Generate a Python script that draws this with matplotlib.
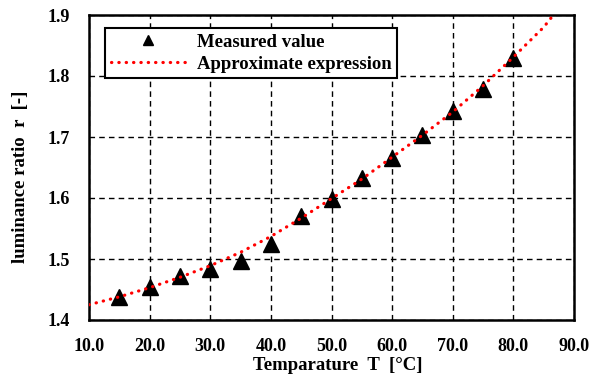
import matplotlib
matplotlib.use("Agg")
import matplotlib.pyplot as plt

# measured points
temp = [15, 20, 25, 30, 35, 40, 45, 50, 55, 60, 65, 70, 75, 80]
ratio = [1.438, 1.454, 1.472, 1.484, 1.497, 1.525, 1.570, 1.598,
         1.633, 1.666, 1.703, 1.743, 1.779, 1.830]

# approximate expression
fit_t = [10, 15, 20, 25, 30, 35, 40, 45, 50, 55, 60, 65, 70, 75, 80, 85, 87]
fit_r = [1.425, 1.438, 1.453, 1.470, 1.489, 1.511, 1.537, 1.567, 1.599,
         1.631, 1.667, 1.703, 1.741, 1.784, 1.831, 1.880, 1.905]

xticks = [10, 20, 30, 40, 50, 60, 70, 80, 90]
yticks = [1.4, 1.5, 1.6, 1.7, 1.8, 1.9]

plt.rcParams["font.family"] = ["Liberation Serif", "DejaVu Serif"]
plt.rcParams["font.weight"] = "bold"

fig = plt.figure(figsize=(5.97, 3.77), dpi=100)
ax = fig.add_axes([89 / 597, 57 / 377, 485 / 597, 305 / 377])

ax.plot(temp, ratio, "^", color="black", markersize=11, label="Measured value", zorder=3)
ax.plot(fit_t, fit_r, color="red", linewidth=2.3, linestyle=(0, (0.1, 2.2)),
        dash_capstyle="round", label="Approximate expression", zorder=4)

ax.set_xlim(10, 90)
ax.set_ylim(1.4, 1.9)
ax.set_xticks(xticks)
ax.set_yticks(yticks)
ax.set_xticklabels(["%.1f" % v for v in xticks])
ax.set_yticklabels(["%.1f" % v for v in yticks])
ax.tick_params(length=0, labelsize=13)
ax.tick_params(axis="y", pad=14)
ax.tick_params(axis="x", pad=13)
for lab in ax.get_xticklabels() + ax.get_yticklabels():
    lab.set_fontweight("bold")

ax.grid(True, color="black", linestyle=(0, (4, 3)), linewidth=1)
for s in ax.spines.values():
    s.set_linewidth(1.8)

ax.set_xlabel("Temparature  T  [°C]", fontsize=13.5, fontweight="bold")
ax.set_ylabel("luminance ratio  r  [-]", fontsize=13.5, fontweight="bold")
ax.xaxis.set_label_coords(0.513, -0.12)
ax.yaxis.set_label_coords(-0.124, 0.469)

leg = ax.legend(loc="upper left", bbox_to_anchor=(16 / 485, 1 - 13 / 305),
                fontsize=13.5, frameon=True, fancybox=False, framealpha=1,
                edgecolor="black", borderpad=0.3, handlelength=4.0,
                handletextpad=0.6, labelspacing=0.25, borderaxespad=0,
                markerscale=0.7)
leg.get_frame().set_linewidth(1.5)
for t in leg.get_texts():
    t.set_fontweight("bold")

fig.savefig("out.png", dpi=100)
